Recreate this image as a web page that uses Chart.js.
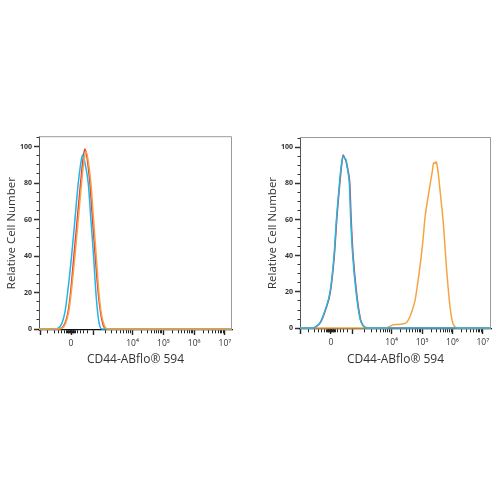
<!DOCTYPE html>
<html>
<head>
<meta charset="utf-8">
<script src="https://cdn.jsdelivr.net/npm/chart.js@4/dist/chart.umd.min.js"></script>
<style>
  html, body { margin: 0; padding: 0; background: #ffffff; width: 500px; height: 500px; overflow: hidden; }
  .panel { position: absolute; top: 130px; width: 250px; height: 250px; }
  #p1 { left: 0px; }
  #p2 { left: 250px; }
</style>
</head>
<body>
<div class="panel" id="p1"><canvas id="c1" width="250" height="250"></canvas></div>
<div class="panel" id="p2"><canvas id="c2" width="250" height="250"></canvas></div>
<script>
// ---- axis definitions (display units of a biexponential axis) ----
const xLabelValues = [2, 4, 5, 6, 7];
const xLabelTexts  = ['0', '10\u2074', '10\u2075', '10\u2076', '10\u2077'];
const xMajorTicks  = [1.0, 2.0, 2.72, 4, 5, 6, 7];
const xLowMinorTicks = [1.25, 1.45, 1.6, 1.7, 1.78, 1.84, 1.88, 1.91, 1.93, 1.95, 1.97, 1.985,
                        2.015, 2.03, 2.05, 2.07, 2.09, 2.12, 2.16, 2.22, 2.3, 2.4, 2.55];
const decadeStarts = [2.72, 4, 5, 6];
const decadeWidths = [1.28, 1, 1, 1];
const yTickValues = [0,5,10,15,20,25,30,35,40,45,50,55,60,65,70,75,80,85,90,95,100,105];
const yLabelValues = [0, 20, 40, 60, 80, 100];
const xTitle = 'CD44-ABflo\u00AE 594';
const yTitle = 'Relative Cell Number';

// ---- left panel series ----
const leftCyanX = [0.96, 1.45, 1.585, 1.70, 1.80, 1.889, 2.018, 2.127, 2.235, 2.31, 2.376, 2.44, 2.559, 2.646, 2.733, 2.808, 2.88, 2.938, 3.0, 7.23];
const leftCyanY = [0, 0, 0.5, 3, 9, 20, 40, 60, 80, 90, 95.6, 92, 80, 60, 40, 20, 7, 1.5, 0, 0];
const leftRedX = [0.96, 1.55, 1.694, 1.80, 1.90, 1.986, 2.094, 2.202, 2.311, 2.39, 2.451, 2.52, 2.614, 2.70, 2.787, 2.884, 2.97, 3.04, 3.101, 3.2, 7.23];
const leftRedY = [0, 0, 0.5, 3, 9, 20, 40, 60, 80, 93, 98.7, 94, 80, 60, 40, 20, 8, 2.5, 0.5, 0, 0];
const leftOrangeX = [0.96, 1.58, 1.72, 1.82, 1.92, 2.007, 2.127, 2.235, 2.343, 2.42, 2.484, 2.55, 2.646, 2.733, 2.82, 2.906, 2.99, 3.07, 3.13, 3.22, 7.23];
const leftOrangeY = [0, 0, 0.5, 3, 9, 20, 40, 60, 80, 92, 97.4, 93, 80, 60, 40, 20, 8, 2.5, 0.5, 0, 0];

// ---- right panel series ----
const rightCyanX = [0.98, 1.40, 1.48, 1.64, 1.81, 1.97, 2.10, 2.18, 2.28, 2.34, 2.408, 2.45, 2.487, 2.52, 2.56, 2.605, 2.651, 2.717, 2.826, 2.96, 3.05, 3.12, 3.3, 7.27];
const rightCyanY = [0, 0, 0.5, 3, 10, 20, 40, 60, 80, 90, 95.2, 94, 93, 90, 86.5, 80, 60, 40, 20, 5, 1.5, 0.3, 0, 0];
const rightRedX = [0.98, 1.40, 1.49, 1.65, 1.82, 1.98, 2.11, 2.19, 2.29, 2.35, 2.40, 2.45, 2.50, 2.53, 2.575, 2.62, 2.665, 2.73, 2.84, 2.97, 3.06, 3.14, 3.3, 7.27];
const rightRedY = [0, 0, 0.5, 3, 10, 20, 40, 60, 80, 90, 95.8, 94, 92.5, 90, 86, 80, 60, 40, 20, 5, 1.5, 0.3, 0, 0];
const rightOrangeX = [0.98, 3.80, 3.92, 4.05, 4.2, 4.35, 4.48, 4.6, 4.68, 4.77, 4.85, 4.93, 5.02, 5.10, 5.20, 5.28, 5.34, 5.38, 5.42, 5.46, 5.49, 5.53, 5.59, 5.70, 5.81, 5.92, 6.0, 6.06, 6.12, 6.25, 7.27];
const rightOrangeY = [0, 0, 0.8, 1.8, 2.0, 2.3, 3.0, 6.3, 10, 15.5, 24, 33.9, 47, 61.6, 72.7, 81, 87, 91.5, 91, 92, 90.5, 86, 76.4, 57.9, 32.1, 11.8, 3.5, 1.2, 0.3, 0, 0];

// ---- styling ----
const CYAN = '#22b6e2';
const RED = '#e63843';
const ORANGE = '#f6a443';
const FONT = "'Open Sans', 'DejaVu Sans', sans-serif";

function pts(xs, ys) { return xs.map((x, i) => ({ x: x, y: ys[i] })); }

function buildXTicks() {
  const t = [];
  xMajorTicks.forEach(v => t.push(v));
  xLowMinorTicks.forEach(v => t.push(v));
  decadeStarts.forEach((s, i) => {
    for (let k = 2; k <= 9; k++) t.push(s + decadeWidths[i] * Math.log10(k));
  });
  t.sort((a, b) => a - b);
  return t;
}
const xTickList = buildXTicks();
const isMajorX = v => xMajorTicks.some(m => Math.abs(m - v) < 1e-6);
const isMajorY = v => yLabelValues.indexOf(v) >= 0;

const borderPlugin = {
  id: 'boxBorder',
  afterDatasetsDraw(chart) {
    const a = chart.chartArea, ctx = chart.ctx;
    ctx.save();
    ctx.strokeStyle = '#9a9a9a';
    ctx.lineWidth = 1;
    ctx.beginPath();
    ctx.moveTo(a.left, a.top + 0.5);
    ctx.lineTo(a.right - 0.5, a.top + 0.5);
    ctx.lineTo(a.right - 0.5, a.bottom);
    ctx.stroke();
    ctx.restore();
  }
};

function makeChart(id, series, xmin, xmax, pad, xH) {
  return new Chart(document.getElementById(id), {
    type: 'line',
    data: {
      datasets: series.map(s => ({
        data: pts(s.x, s.y),
        borderColor: s.color,
        borderWidth: 1.5,
        pointRadius: 0,
        fill: false,
        cubicInterpolationMode: 'monotone'
      }))
    },
    options: {
      responsive: false,
      animation: false,
      events: [],
      layout: { padding: pad },
      plugins: { legend: { display: false }, tooltip: { enabled: false } },
      scales: {
        x: {
          type: 'linear',
          min: xmin, max: xmax,
          afterBuildTicks: sc => { sc.ticks = xTickList.map(v => ({ value: v })); },
          afterFit: sc => { sc.height = xH; },
          ticks: {
            autoSkip: false, maxRotation: 0, minRotation: 0, padding: 3,
            color: '#333', font: { family: FONT, size: 8.5 },
            callback: v => {
              const i = xLabelValues.findIndex(l => Math.abs(l - v) < 1e-6);
              return i >= 0 ? xLabelTexts[i] : '';
            }
          },
          grid: {
            display: true, drawOnChartArea: false, drawTicks: true, tickLength: 5,
            tickColor: '#222',
            tickWidth: c => isMajorX(c.tick ? c.tick.value : 0) ? 1.4 : 1,
            tickBorderDash: c => isMajorX(c.tick ? c.tick.value : 0) ? [] : [3, 100]
          },
          border: { display: true, color: '#111', width: 1.3 },
          title: { display: true, text: xTitle, color: '#333', font: { family: FONT, size: 12 }, padding: { top: 0, bottom: 1 } }
        },
        y: {
          type: 'linear',
          min: -0.5, max: 105.7,
          afterBuildTicks: sc => { sc.ticks = yTickValues.map(v => ({ value: v })); },
          afterFit: sc => { sc.width = 35; },
          ticks: {
            autoSkip: false, padding: 2,
            color: '#333', font: { family: FONT, size: 7, weight: 'bold' },
            callback: v => isMajorY(v) ? String(v) : ''
          },
          grid: {
            display: true, drawOnChartArea: false, drawTicks: true, tickLength: 5,
            tickColor: '#333',
            tickWidth: c => isMajorY(c.tick ? c.tick.value : -1) ? 1.5 : 1,
            tickBorderDash: c => isMajorY(c.tick ? c.tick.value : -1) ? [] : [0, 2.5, 3, 100]
          },
          border: { display: true, color: '#555', width: 1 },
          title: { display: true, text: yTitle, color: '#333', font: { family: FONT, size: 11.5 }, padding: { top: 1, bottom: 0 } }
        }
      }
    },
    plugins: [borderPlugin]
  });
}

makeChart('c1', [
  { x: leftOrangeX, y: leftOrangeY, color: ORANGE },
  { x: leftCyanX, y: leftCyanY, color: CYAN },
  { x: leftRedX, y: leftRedY, color: RED }
], 0.96, 7.23, { left: 4, right: 18, top: 6, bottom: 12 }, 38);

makeChart('c2', [
  { x: rightCyanX, y: rightCyanY, color: CYAN },
  { x: rightOrangeX, y: rightOrangeY, color: ORANGE },
  { x: rightRedX, y: rightRedY, color: RED }
], 0.98, 7.27, { left: 15, right: 9, top: 7, bottom: 12 }, 39);
</script>
</body>
</html>
